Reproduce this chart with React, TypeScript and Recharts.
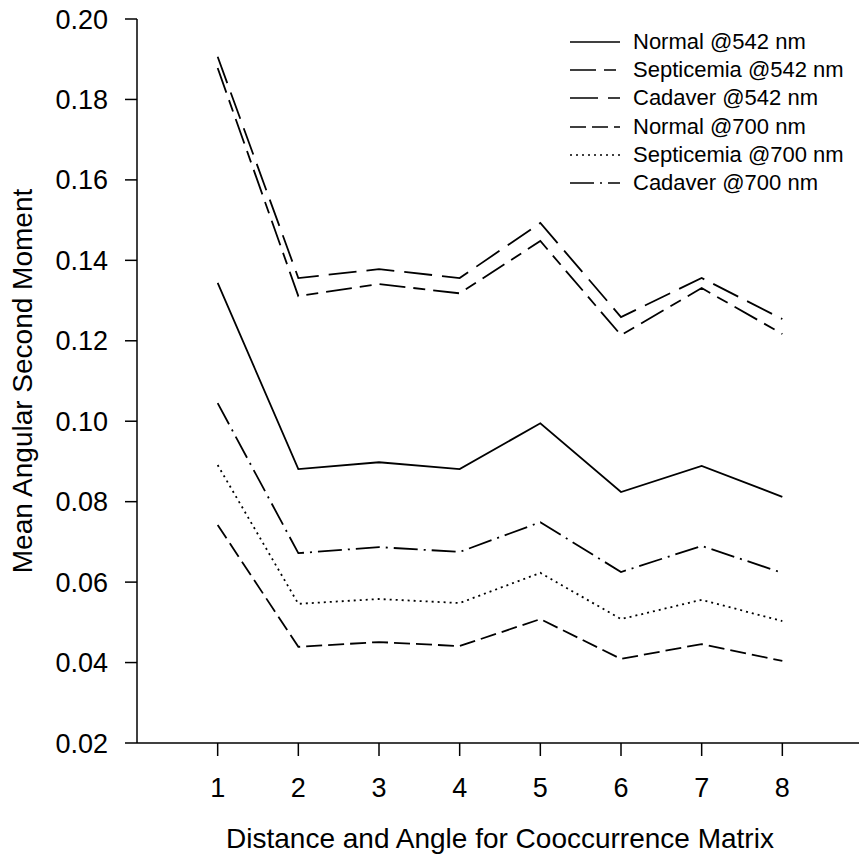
import React from 'react'
import { LineChart, Line, XAxis, YAxis, Legend, Label } from 'recharts'

// values
const distances = [1, 2, 3, 4, 5, 6, 7, 8]
const normal542 = [0.1344, 0.0881, 0.0898, 0.0881, 0.0995, 0.0824, 0.0889, 0.0812]
const septicemia542 = [0.1878, 0.1311, 0.1341, 0.1318, 0.1448, 0.1214, 0.1331, 0.1217]
const cadaver542 = [0.1906, 0.1356, 0.1378, 0.1356, 0.1493, 0.1259, 0.1356, 0.1254]
const normal700 = [0.0742, 0.0439, 0.0451, 0.0441, 0.0508, 0.0409, 0.0446, 0.0404]
const septicemia700 = [0.0891, 0.0546, 0.0558, 0.0548, 0.0623, 0.0508, 0.0556, 0.0503]
const cadaver700 = [0.1045, 0.0672, 0.0687, 0.0675, 0.0749, 0.0625, 0.0690, 0.0623]

const yTicks = [0.02, 0.04, 0.06, 0.08, 0.1, 0.12, 0.14, 0.16, 0.18, 0.2]

const data = distances.map((d, i) => ({
  d,
  normal542: normal542[i],
  septicemia542: septicemia542[i],
  cadaver542: cadaver542[i],
  normal700: normal700[i],
  septicemia700: septicemia700[i],
  cadaver700: cadaver700[i],
}))

const series = [
  { key: 'normal542', name: 'Normal @542 nm', dash: undefined },
  { key: 'septicemia542', name: 'Septicemia @542 nm', dash: '26 8 12 8' },
  { key: 'cadaver542', name: 'Cadaver @542 nm', dash: '28 10' },
  { key: 'normal700', name: 'Normal @700 nm', dash: '16 6' },
  { key: 'septicemia700', name: 'Septicemia @700 nm', dash: '2 4' },
  { key: 'cadaver700', name: 'Cadaver @700 nm', dash: '24 6 2 6' },
]

const font = '"Liberation Sans", Arial, sans-serif'
const axisStyle = { stroke: '#000', strokeWidth: 1.5 }

const LegendBox = () => (
  <div style={{ fontFamily: font, fontSize: 22, color: '#000' }}>
    {series.map((s) => (
      <div key={s.key} style={{ display: 'flex', alignItems: 'center', height: 28.2 }}>
        <svg width={50} height={28} style={{ marginRight: 13 }}>
          <line x1={0} y1={14} x2={50} y2={14} stroke="#000" strokeWidth={1.6} strokeDasharray={s.dash} />
        </svg>
        <span>{s.name}</span>
      </div>
    ))}
  </div>
)

const YTitle = (props: any) => {
  const { viewBox } = props
  const cy = viewBox.y + viewBox.height / 2
  return (
    <text x={22} y={cy} transform={`rotate(-90, 22, ${cy})`} textAnchor="middle" dominantBaseline="central"
      fontFamily={font} fontSize={28} fill="#000">
      Mean Angular Second Moment
    </text>
  )
}

const XTitle = (props: any) => {
  const { viewBox } = props
  const cx = viewBox.x + viewBox.width / 2
  return (
    <text x={cx} y={838} textAnchor="middle" dominantBaseline="central" fontFamily={font} fontSize={28} fill="#000">
      Distance and Angle for Cooccurrence Matrix
    </text>
  )
}

export default function App() {
  return (
    <div style={{ position: 'fixed', top: 0, left: 0, width: 859, height: 855, overflow: 'hidden', background: '#fff' }}>
      <LineChart width={868} height={855} data={data} margin={{ top: 19, right: 5, bottom: 12, left: 57 }}>
        <XAxis
          dataKey="d"
          type="number"
          domain={[0, 9]}
          ticks={distances}
          height={100}
          axisLine={axisStyle}
          tickLine={axisStyle}
          tickSize={13}
          tickMargin={22}
          tick={{ fill: '#000', fontSize: 27, fontFamily: font }}
        >
          <Label content={<XTitle />} />
        </XAxis>
        <XAxis xAxisId="top" orientation="top" dataKey="d" type="number" domain={[0, 9]} height={0}
          tick={false} tickLine={false} axisLine={axisStyle} />
        <YAxis
          type="number"
          domain={[0.02, 0.2]}
          ticks={yTicks}
          width={80}
          axisLine={axisStyle}
          tickLine={axisStyle}
          tickSize={12}
          tickMargin={17}
          tickFormatter={(v: number) => v.toFixed(2)}
          tick={{ fill: '#000', fontSize: 27, fontFamily: font }}
        >
          <Label content={<YTitle />} />
        </YAxis>
        <Legend
          layout="horizontal"
          verticalAlign="middle"
          align="center"
          content={<LegendBox />}
          wrapperStyle={{ top: 28, left: 570, width: 'auto', bottom: 'auto', right: 'auto' }}
        />
        {series.map((s) => (
          <Line
            key={s.key}
            dataKey={s.key}
            name={s.name}
            type="linear"
            stroke="#000"
            strokeWidth={1.8}
            strokeDasharray={s.dash}
            dot={false}
            activeDot={false}
            isAnimationActive={false}
          />
        ))}
      </LineChart>
    </div>
  )
}
